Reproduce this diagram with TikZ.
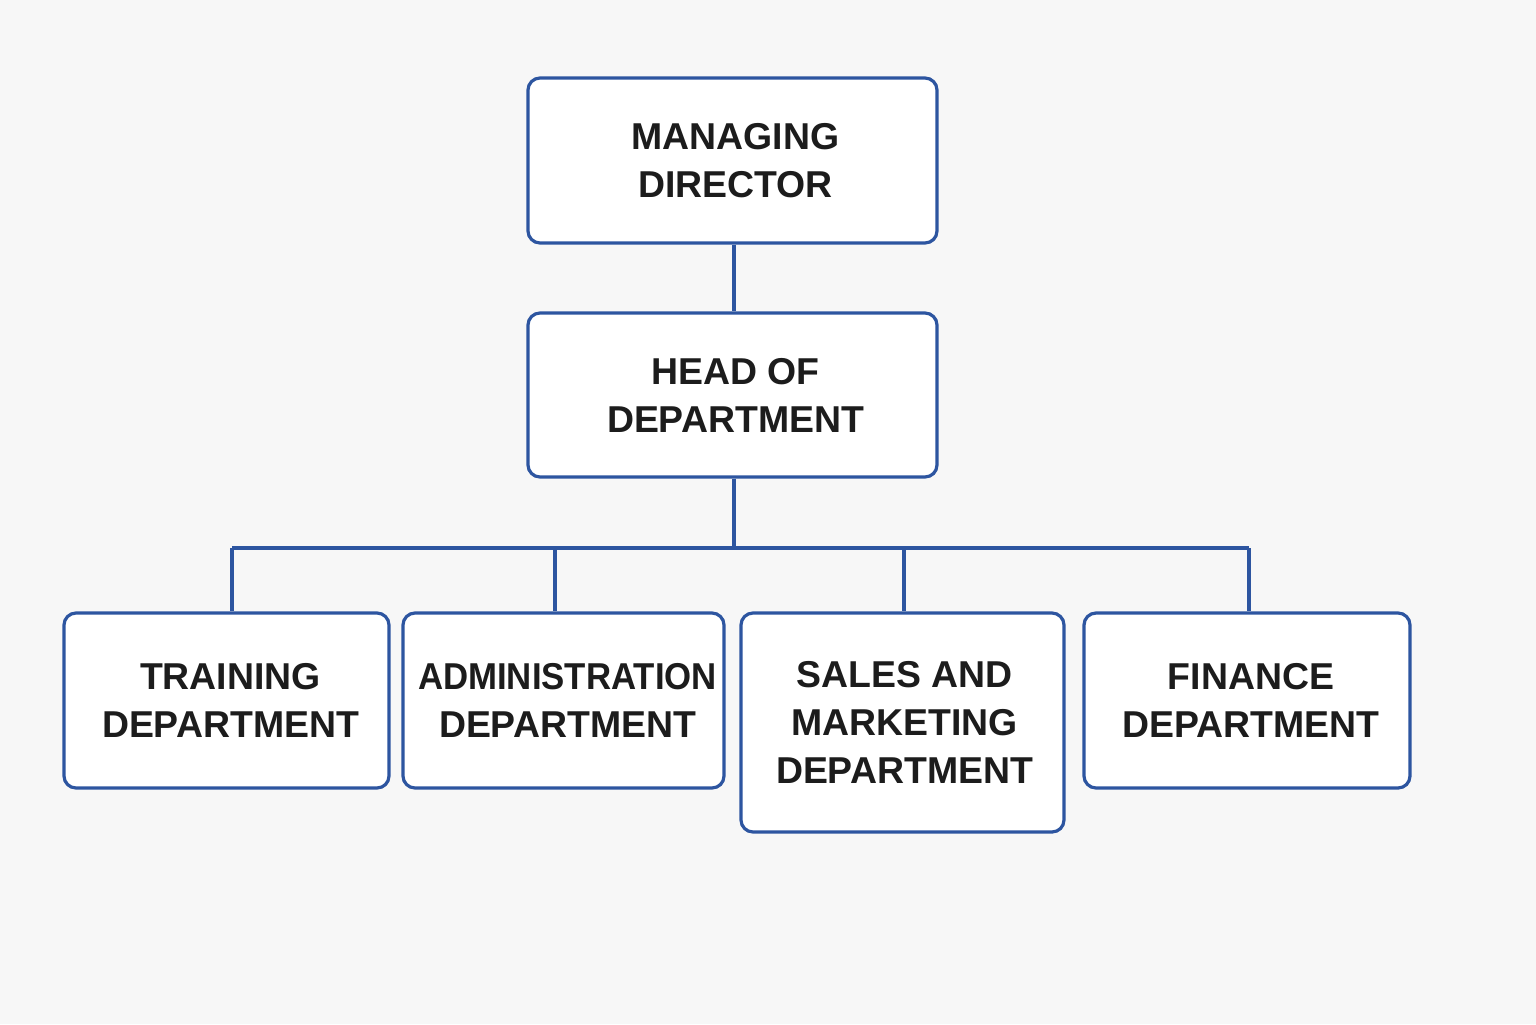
\documentclass[tikz,border=0pt]{standalone}
\usepackage{fontspec}
\setmainfont{Liberation Sans}
\usetikzlibrary{calc}
\definecolor{boxblue}{HTML}{2D55A0}
\definecolor{bgcol}{HTML}{F7F7F7}
\definecolor{txt}{HTML}{1C1C1C}
\tikzstyle{edge}=[line width=1.6pt, boxblue]
\tikzstyle{unit}=[draw=boxblue, fill=white, line width=1.6pt, rounded corners=6pt, align=center, inner sep=0pt, text=txt, font=\bfseries\fontsize{18.7}{24}\selectfont]

\begin{document}
\begin{tikzpicture}[x=0.5pt, y=-0.5pt]
    \fill[bgcol] (0,0) rectangle (1536,1024);
    \useasboundingbox (0,0) rectangle (1536,1024);

    %%%%%  Direccion  %%%%%
    \node (0) [unit, minimum width=204.5pt, minimum height=82.5pt] at (732.5,160.5) {\hspace{3pt}MANAGING\\\hspace{3pt}DIRECTOR};
    \node (1) [unit, minimum width=204.5pt, minimum height=82pt] at (732.5,395) {\hspace{3pt}HEAD OF\\\hspace{3pt}DEPARTMENT};

    %%%%%  Departamentos  %%%%%
    \node (2) [unit, minimum width=162.5pt, minimum height=87.5pt] at (226.5,700.5) {\hspace{4pt}TRAINING\\\hspace{4pt}DEPARTMENT};
    \node (3) [unit, minimum width=160.5pt, minimum height=87.5pt] at (563.5,700.5) {\hspace{4pt}\scalebox{0.93}[1]{ADMINISTRATION}\\\hspace{4pt}DEPARTMENT};
    \node (4) [unit, minimum width=161.5pt, minimum height=109.5pt] at (902.5,722.5) {\hspace{2pt}SALES AND\\\hspace{2pt}MARKETING\\\hspace{2pt}DEPARTMENT};
    \node (5) [unit, minimum width=163pt, minimum height=87.5pt] at (1247,700.5) {\hspace{4pt}FINANCE\\\hspace{4pt}DEPARTMENT};

    %%%%%  Conexiones  %%%%%
    \coordinate (b1) at (734,548);
    \coordinate (b2) at (232,548);
    \coordinate (b3) at (555,548);
    \coordinate (b4) at (904,548);
    \coordinate (b5) at (1249,548);

    \draw [edge] (0.south -| b1) to (1.north -| b1);
    \draw [edge] (1.south -| b1) to (b1);
    \draw [edge] (b2) to (b5);
    \draw [edge] (b2) to (b2 |- 2.north);
    \draw [edge] (b3) to (b3 |- 3.north);
    \draw [edge] (b4) to (b4 |- 4.north);
    \draw [edge] (b5) to (b5 |- 5.north);
  \end{tikzpicture}
\end{document}
